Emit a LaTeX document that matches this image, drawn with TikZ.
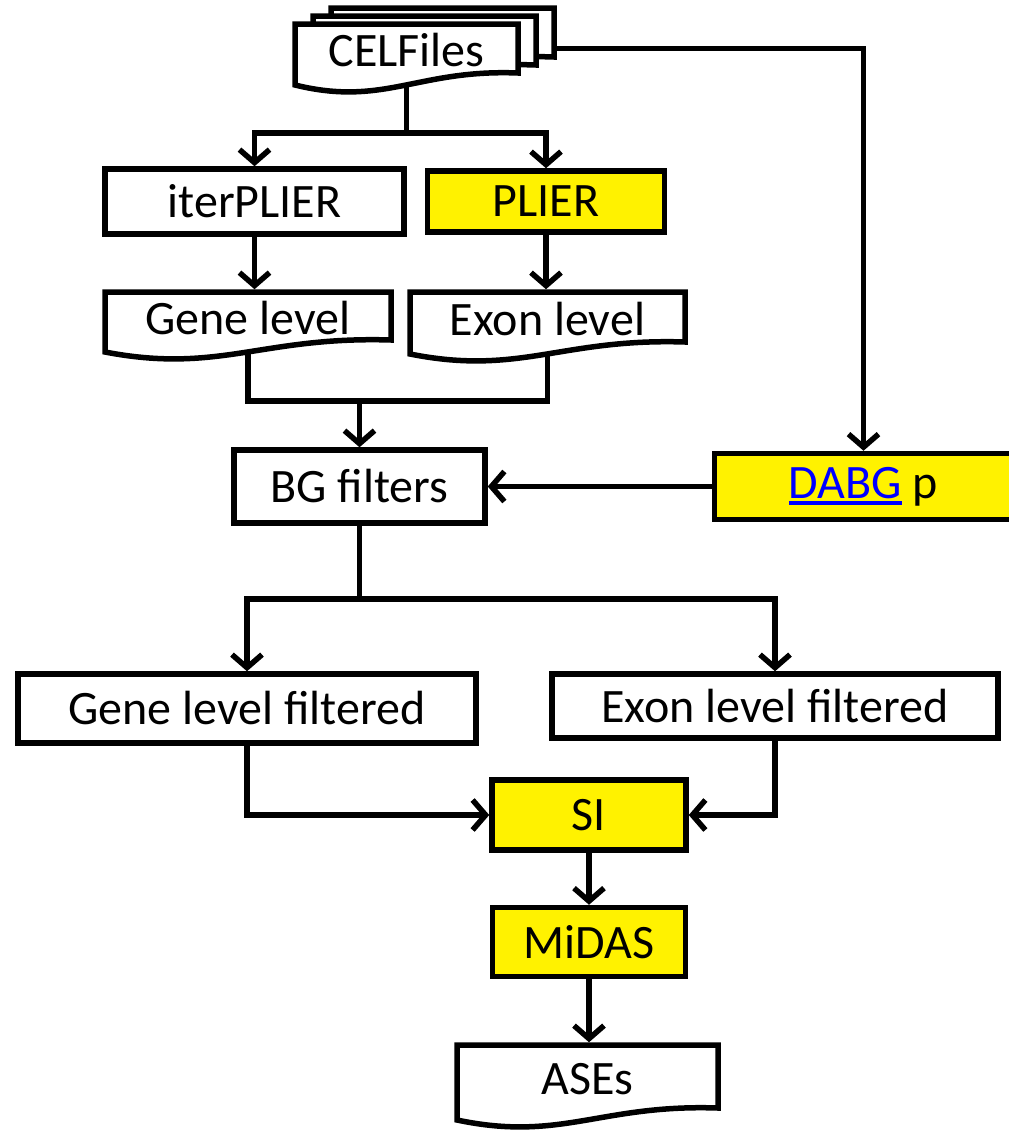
\documentclass[tikz,border=0pt]{standalone}
\usepackage{fontspec}
\setmainfont{Carlito}
\usepackage{tikz}
\usetikzlibrary{arrows.meta,positioning,backgrounds}

% document shaped box: name, x, y, width, height (to right end), text
\newcommand{\docbox}[6]{%
  \pgfmathsetmacro{\docL}{#2-#4/2}\pgfmathsetmacro{\docR}{#2+#4/2}%
  \pgfmathsetmacro{\docT}{#3+#5/2}\pgfmathsetmacro{\docB}{#3-#5/2}%
  \draw[docline] (\docL,\docT) -- (\docR,\docT) -- (\docR,\docB)
     .. controls ({\docL+0.55*#4},{\docB+4}) and ({\docL+0.4*#4},{\docB-34}) .. ({\docL},{\docB-12}) -- cycle;
  \node[doctext, minimum width=#4pt, minimum height=#5pt] (#1) at (#2,#3) {#6};}

\newcommand{\linkword}[1]{\textcolor{blue}{\setbox0\hbox{#1}\rlap{\rule[-7pt]{\wd0}{4.5pt}}\box0}}

\tikzset{
  conn/.style={line width=5.5pt},
  flow/.style={conn, -{Straight Barb[length=13pt,width=30pt]}},
  box/.style={rectangle, draw=black, line width=5.5pt, fill=white, inner sep=2pt,
              font=\fontsize{48}{56}\selectfont},
  hot/.style={box, fill=yellow},
  docline/.style={draw=black, line width=5.5pt, fill=white},
  doctext/.style={rectangle, inner sep=2pt, outer sep=2.75pt, text height=37pt, text depth=1pt,
                  font=\fontsize{48}{56}\selectfont}
}

\begin{document}
\begin{tikzpicture}[x=1pt, y=1pt]
      \useasboundingbox (0,0) rectangle (1009,-1130);

      % stacked input files
      \docbox{celback}{442.5}{-32.5}{223}{49}{}
      \docbox{celmid}{424.5}{-40.5}{223}{49}{}
      \docbox{cel}{406.5}{-48.5}{223}{49}{CELFiles}

      \node[box, minimum width=299pt, minimum height=65pt] (iter) at (254.5,-201.5) {iterPLIER};
      \node[hot, minimum width=237pt, minimum height=61pt] (plier)
           [right = 18pt of iter] {PLIER};

      \docbox{gene}{248}{-316}{286}{48}{Gene level}
      \docbox{exon}{547.5}{-317}{275}{50}{Exon level}

      \node[box, minimum width=251pt, minimum height=73pt] (bg) at (359.5,-486.5) {BG filters};
      \node[hot, minimum width=298pt, minimum height=66pt] (dabg)
           [right = 224pt of bg] {\linkword{DABG} p};

      \node[box, minimum width=458pt, minimum height=69pt] (gfilt) at (247,-708.5) {Gene level filtered};
      \node[box, minimum width=446pt, minimum height=64pt] (efilt) at (775,-706) {Exon level filtered};

      \node[hot, minimum width=194pt, minimum height=70pt] (si) at (589,-815) {SI};
      \node[hot, minimum width=193pt, minimum height=69pt] (midas)
           [below = 52pt of si] {MiDAS};

      \docbox{ases}{587.5}{-1076.5}{261}{63}{ASEs}

      \begin{scope}[on background layer]
      \draw[conn] (cel.south) -- ++(0,-57) coordinate (fork1);
      \draw[flow] (fork1) -| (iter.north);
      \draw[flow] (fork1) -| (plier.north);
      \draw[flow] (cel.east) -| (dabg.north);

      \draw[flow] (iter.south) -- (iter.south |- gene.north);
      \draw[flow] (plier.south) -- (plier.south |- exon.north);

      \draw[conn] (gene.south) -- ++(0,-58) coordinate (join1) -| (exon.south);
      \draw[flow] (join1 -| bg.north) -- (bg.north);
      \draw[flow] (dabg.west) -- (bg.east);

      \draw[conn] (bg.south) -- ++(0,-73) coordinate (fork2);
      \draw[flow] (fork2) -| (gfilt.north);
      \draw[flow] (fork2) -| (efilt.north);

      \draw[flow] (gfilt.south) |- (si.west);
      \draw[flow] (efilt.south) |- (si.east);
      \draw[flow] (si.south) -- (midas.north);
      \draw[flow] (midas.south) -- (midas.south |- ases.north);
      \end{scope}
\end{tikzpicture}
\end{document}
